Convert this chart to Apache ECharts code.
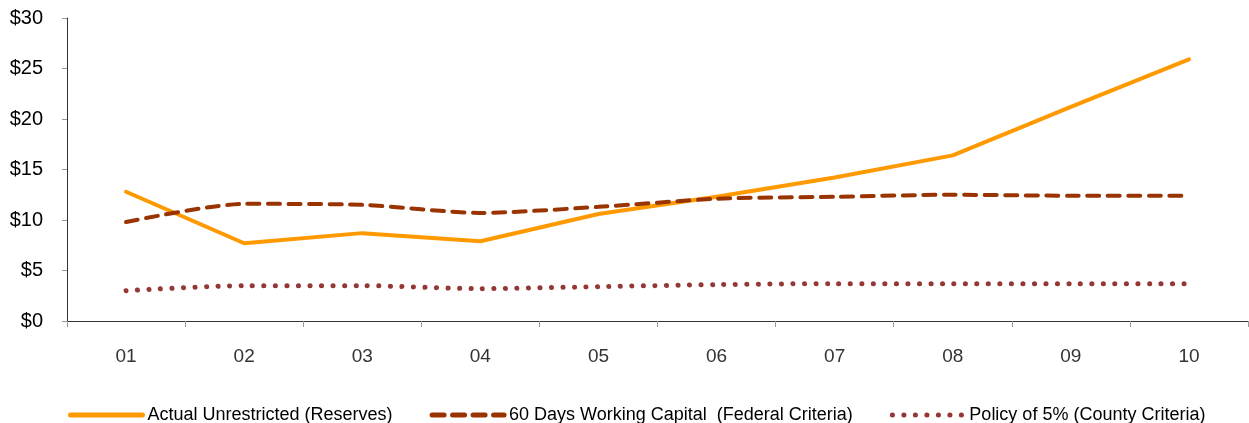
<!DOCTYPE html>
<html><head><meta charset="utf-8">
<script src="https://cdn.jsdelivr.net/npm/echarts@6/dist/echarts.min.js"></script>
<style>html,body{margin:0;padding:0;background:#fff}#c{width:1249px;height:423px}</style>
</head><body><div id="c"></div>
<script>
const categories = ['01','02','03','04','05','06','07','08','09','10'];
const actualReserves = [12.8, 7.7, 8.7, 7.9, 10.6, 12.3, 14.2, 16.4, 21.2, 25.9];
const workingCapital = [9.8, 11.6, 11.5, 10.7, 11.3, 12.1, 12.3, 12.5, 12.4, 12.4];
const policy5 = [3.0, 3.5, 3.5, 3.2, 3.4, 3.6, 3.7, 3.7, 3.7, 3.7];
const yTicks = [0, 5, 10, 15, 20, 25, 30];

const chart = echarts.init(document.getElementById('c'));
const font = 'Liberation Sans, Arial, sans-serif';
chart.setOption({
  animation: false,
  grid: {left: 67, right: 1, top: 18, bottom: 102, containLabel: false},
  legend: {
    top: 401, left: 63,
    itemWidth: 72, itemHeight: 12, itemGap: 37,
    itemStyle: {opacity: 0},
    lineStyle: {width: 5},
    textStyle: {fontFamily: font, fontSize: 18, color: '#000'},
    data: ['Actual Unrestricted (Reserves)', '60 Days Working Capital  (Federal Criteria)', 'Policy of 5% (County Criteria)']
  },
  xAxis: {
    type: 'category', data: categories, boundaryGap: true,
    axisLine: {lineStyle: {color: '#333', width: 1}},
    axisTick: {show: true, alignWithLabel: false, length: 6, lineStyle: {color: '#999'}},
    axisLabel: {fontFamily: font, fontSize: 19, color: '#333', margin: 26}
  },
  yAxis: {
    type: 'value', min: yTicks[0], max: yTicks[yTicks.length-1], interval: 5,
    axisLine: {show: true, lineStyle: {color: '#333', width: 1}},
    axisTick: {show: true, length: 5, lineStyle: {color: '#999'}},
    splitLine: {show: false},
    axisLabel: {fontFamily: font, fontSize: 20, color: '#000', margin: 24, formatter: v => '$' + v}
  },
  series: [
    {name: 'Actual Unrestricted (Reserves)', type: 'line', data: actualReserves, smooth: false,
     symbol: 'none', color: '#FF9900', lineStyle: {color: '#FF9900', width: 4, cap: 'round', join: 'round'}},
    {name: '60 Days Working Capital  (Federal Criteria)', type: 'line', data: workingCapital, smooth: 0.25,
     symbol: 'none', color: '#993300', lineStyle: {color: '#993300', width: 4, type: [12, 8.5], cap: 'round'}},
    {name: 'Policy of 5% (County Criteria)', type: 'line', data: policy5, smooth: 0.25,
     symbol: 'none', color: '#953735', lineStyle: {color: '#953735', width: 5, type: [0.1, 11.4], cap: 'round'}}
  ]
});
</script></body></html>
